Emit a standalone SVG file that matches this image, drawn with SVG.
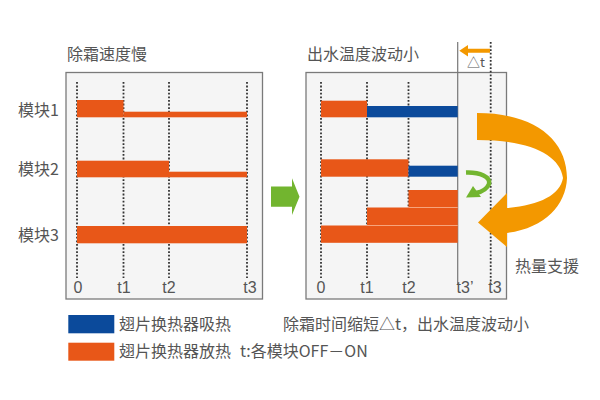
<svg xmlns="http://www.w3.org/2000/svg" width="600" height="400" viewBox="0 0 600 400">
<style>
text{font-family:"Noto Sans CJK SC","Liberation Sans",sans-serif;fill:#555;font-size:16px}
.panel{fill:#f5f5f5;stroke:#7a7a7a;stroke-width:1.3}
.dot{stroke:#333;stroke-width:1.8;stroke-dasharray:1.8 1.8;fill:none}
.or{fill:#e85718}
.bl{fill:#0b4a9b}
.tick{font-family:"Liberation Sans","Noto Sans",sans-serif;font-size:16px;text-anchor:middle}
.sep{stroke:#f7a47c;stroke-width:1}
.amber{fill:#f39800}
</style>
<rect width="600" height="400" fill="#ffffff"/>

<g id="left-panel">
<text x="67" y="60">除霜速度慢</text>
<rect class="panel" x="66" y="72.5" width="196.5" height="226.5"/>
<g class="dot">
<line x1="77" y1="82" x2="77" y2="278"/>
<line x1="123.5" y1="82" x2="123.5" y2="278"/>
<line x1="169" y1="82" x2="169" y2="278"/>
<line x1="247" y1="82" x2="247" y2="278"/>
</g>
<rect class="or" x="77" y="100" width="46.5" height="17.3"/>
<rect class="or" x="123.5" y="111.7" width="123.5" height="5.6"/>
<rect class="or" x="77" y="160.7" width="92" height="16.6"/>
<rect class="or" x="169" y="171.7" width="78" height="5.6"/>
<rect class="or" x="77" y="226" width="170" height="17.3"/>
<text class="tick" x="78" y="293">0</text>
<text class="tick" x="124" y="293">t1</text>
<text class="tick" x="169" y="293">t2</text>
<text class="tick" x="250" y="293">t3</text>
</g>

<g id="module-labels">
<text x="18" y="116">模块1</text>
<text x="18" y="175">模块2</text>
<text x="18" y="241">模块3</text>
</g>

<g id="green-arrow-between">
<polygon fill="#72b52f" points="271,186.5 292,186.5 292,178.3 299.5,196.7 292,215 292,206.7 271,206.7"/>
</g>

<g id="right-panel">
<text x="307" y="60">出水温度波动小</text>
<rect class="panel" x="306" y="72.5" width="200.5" height="226.5"/>
<g class="dot">
<line x1="321" y1="82" x2="321" y2="278"/>
<line x1="367" y1="82" x2="367" y2="278"/>
<line x1="408.5" y1="82" x2="408.5" y2="278"/>
<line x1="490.7" y1="42" x2="490.7" y2="285"/>
</g>
<line x1="457.7" y1="42" x2="457.7" y2="285" stroke="#777" stroke-width="1.2"/>
<rect class="or" x="321" y="100.7" width="46" height="16.6"/>
<rect class="bl" x="367" y="106" width="90.7" height="11.3"/>
<rect class="or" x="321" y="159.3" width="87.5" height="17.4"/>
<rect class="bl" x="408.5" y="165.7" width="49.2" height="11"/>
<rect class="or" x="408.5" y="190" width="49.2" height="17.5"/>
<rect class="or" x="367" y="207.5" width="90.7" height="18"/>
<rect class="or" x="321" y="225.5" width="136.7" height="17.3"/>
<line class="sep" x1="408.5" y1="207.5" x2="457.7" y2="207.5"/>
<line class="sep" x1="367" y1="225.5" x2="457.7" y2="225.5"/>
<text class="tick" x="321" y="293">0</text>
<text class="tick" x="367" y="293">t1</text>
<text class="tick" x="409" y="293">t2</text>
<text class="tick" x="465" y="293">t3’</text>
<text class="tick" x="495" y="293">t3</text>
</g>

<g id="delta-t">
<polygon class="amber" points="490,48.7 468,48.7 468,45 459.3,50.7 468,56.5 468,52.7 490,52.7"/>
<text x="467" y="67" style="font-size:13px">△t</text>
</g>

<g id="heat-support-arrow">
<path class="amber" d="M477,113 C535,113 567,140 567,178 C566,205 545,228 507,233 L507,247 L478,222.5 L507,193 L507,208 C540,205 560,195 563,178 C560,155 530,140 477,140 Z"/>
<text x="515" y="272">热量支援</text>
</g>

<g id="green-curved-arrow">
<path d="M466,172.5 C480,172 491,177 489,184 C487,189 481,192 476,193" fill="none" stroke="#72b52f" stroke-width="4.5"/>
<polygon fill="#72b52f" points="466,197.5 473,186 481,197"/>
</g>

<g id="legend">
<rect class="bl" x="68.3" y="315" width="46" height="18.3"/>
<rect class="or" x="68.3" y="342.7" width="46" height="18"/>
<text x="119" y="330">翅片换热器吸热</text>
<text x="283" y="330">除霜时间缩短△t，出水温度波动小</text>
<text x="119" y="357">翅片换热器放热</text>
<text x="240" y="357">t:各模块OFF－ON</text>
</g>
</svg>
